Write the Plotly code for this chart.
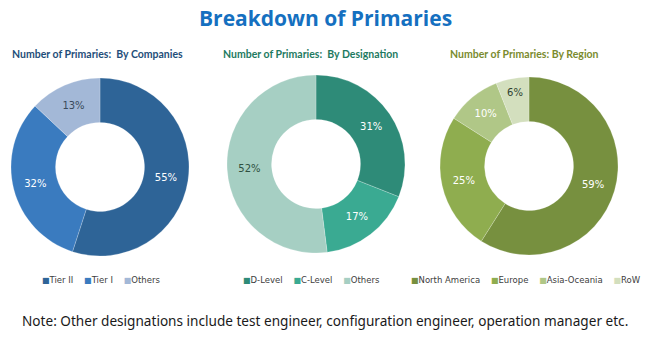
import plotly.graph_objects as go

W, H = 650, 338

# Data
company_labels = ["Tier II", "Tier I", "Others"]
company_values = [55, 32, 13]
designation_labels = ["D-Level", "C-Level", "Others"]
designation_values = [31, 17, 52]
region_labels = ["North America", "Europe", "Asia-Oceania", "RoW"]
region_values = [59, 25, 10, 6]

company_colors = ["#2E6497", "#3A7BBF", "#A3B8D7"]
designation_colors = ["#2E8B78", "#3AAA92", "#A6CFC3"]
region_colors = ["#77903F", "#8FAD4F", "#B0C787", "#D3DFBE"]

company_text = ["white", "white", "#3A4A5A"]
designation_text = ["white", "white", "#2F4F3F"]
region_text = ["white", "white", "white", "#2F3F2F"]


def dom(cx, cy, r):
    return dict(x=[(cx - r) / W, (cx + r) / W], y=[1 - (cy + r) / H, 1 - (cy - r) / H])


def px(x, y):
    return x / W, 1 - y / H


fig = go.Figure()

# (labels, values, colours, label colours, pie centre/radius, legend start x, subtitle, subtitle colour, subtitle centre x)
groups = [
    (company_labels, company_values, company_colors, company_text, (100, 167, 89), 40,
     "Number of Primaries:  By Companies", "#1F4E79", 97),
    (designation_labels, designation_values, designation_colors, designation_text, (316, 164, 89), 241,
     "Number of Primaries:  By Designation", "#1E7A5F", 310),
    (region_labels, region_values, region_colors, region_text, (529, 166, 89), 409,
     "Number of Primaries: By Region", "#7A8B2E", 524),
]

annotations = []
for labels, values, colors, tcol, (cx, cy, r), lx, sub, subc, sx in groups:
    fig.add_trace(go.Pie(
        labels=labels, values=values, hole=0.5, sort=False, direction="clockwise",
        rotation=0, domain=dom(cx, cy, r),
        marker=dict(colors=colors, line=dict(color="rgba(255,255,255,0.35)", width=0.6)),
        texttemplate="%{value}%", textposition="inside", insidetextorientation="horizontal",
        textfont=dict(family="DejaVu Sans", size=10, color=tcol),
        showlegend=False, hoverinfo="label+value",
    ))
    # legend row built from the same labels and colours
    items = [f'<span style="color:{c};font-size:8px">■</span>{lab}' for lab, c in zip(labels, colors)]
    x, y = px(lx, 280)
    annotations.append(dict(
        text="&nbsp;&nbsp;&nbsp;&nbsp;".join(items), x=x, y=y, xref="paper", yref="paper",
        showarrow=False, xanchor="left", yanchor="middle",
        font=dict(family="DejaVu Sans", size=8.5, color="#404040")))
    x, y = px(sx, 54)
    annotations.append(dict(
        text=f"<b>{sub}</b>", x=x, y=y, xref="paper", yref="paper",
        showarrow=False, xanchor="center", yanchor="middle",
        font=dict(family="Lato", size=10.5, color=subc)))

x, y = px(325, 18)
annotations.append(dict(text="<b>Breakdown of Primaries</b>", x=x, y=y, xref="paper", yref="paper",
                        showarrow=False, xanchor="center", yanchor="middle",
                        font=dict(family="Open Sans", size=21, color="#1570C0")))
x, y = px(324.5, 320)
annotations.append(dict(
    text="Note: Other designations include test engineer, configuration engineer, operation manager etc.",
    x=x, y=y, xref="paper", yref="paper", showarrow=False, xanchor="center", yanchor="middle",
    font=dict(family="Noto Sans", size=13.6, color="#1A1A1A")))

fig.update_layout(
    width=W, height=H, margin=dict(l=0, r=0, t=0, b=0, autoexpand=False),
    paper_bgcolor="white", plot_bgcolor="white",
    showlegend=False, annotations=annotations,
)

fig.write_html("out.html")
